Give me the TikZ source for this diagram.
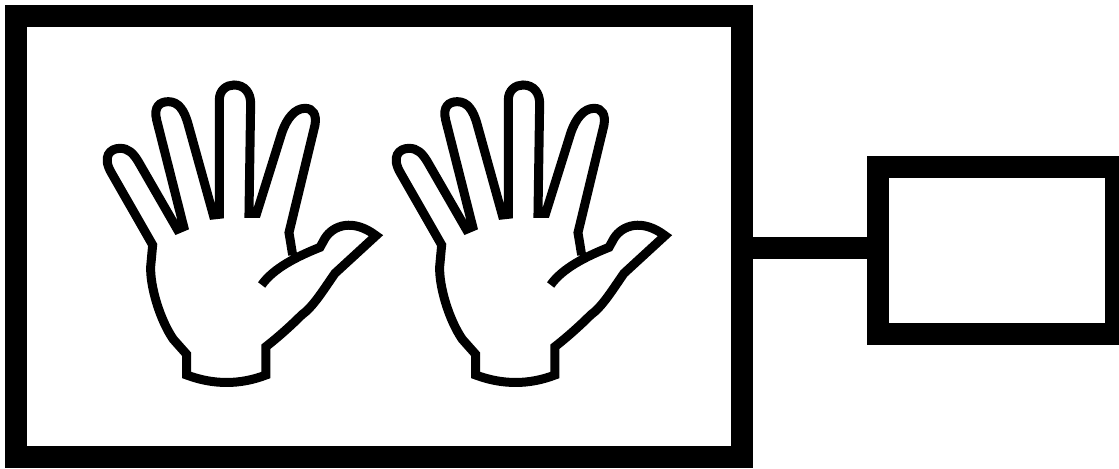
\documentclass[tikz,border=0pt]{standalone}
\usepackage{tikz}

\tikzset{
  heavybox/.style={draw,rectangle,line width=0.44cm,inner sep=0pt,outer sep=0pt},
  handline/.style={draw,line width=0.18cm},
  hand/.pic={
    \path[handline]
      (515,645) .. controls (550,595) and (620,560) .. (690,532) -- (705,505)
      .. controls (730,465) and (790,445) .. (858,497) -- (735,610)
      .. controls (700,660) and (670,710) .. (635,735)
      .. controls (600,770) and (560,805) .. (528,830) -- (528,915)
      .. controls (450,945) and (370,945) .. (290,915) -- (290,853) -- (250,808)
      .. controls (210,750) and (180,650) .. (182,590) -- (188,525) -- (65,310)
      .. controls (35,260) and (60,235) .. (90,235)
      .. controls (115,235) and (130,250) .. (145,275) -- (262,478) -- (281,470)
      -- (200,150) .. controls (190,110) and (210,95) .. (235,95)
      .. controls (265,95) and (283,120) .. (295,165) -- (370,435) -- (388,433)
      -- (388,90) .. controls (388,60) and (410,45) .. (432,45)
      .. controls (465,45) and (482,70) .. (482,100) -- (477,430) -- (500,430)
      -- (575,190) .. controls (590,145) and (615,115) .. (645,115)
      .. controls (670,115) and (680,135) .. (675,165) -- (597,488) -- (608,555);
  }
}

\begin{document}
\begin{tikzpicture}[x=0.02cm,y=-0.02cm]
  \useasboundingbox (0,0) rectangle (1119,469);
  \node[heavybox,minimum width=14.52cm,minimum height=8.82cm] (panel) at (379,236.5) {};
  \node[heavybox,minimum width=4.76cm,minimum height=3.34cm] (screen) at (997,250.5) {};
  \coordinate (tap) at (878,248);
  \draw[line width=0.44cm] (panel.east |- tap) -- (tap);
  \coordinate (lefthand) at (90,70);
  \coordinate (righthand) at (379,70);
  \pic[x=0.00667cm,y=-0.00667cm] at (lefthand) {hand};
  \pic[x=0.00667cm,y=-0.00667cm] at (righthand) {hand};
\end{tikzpicture}
\end{document}
